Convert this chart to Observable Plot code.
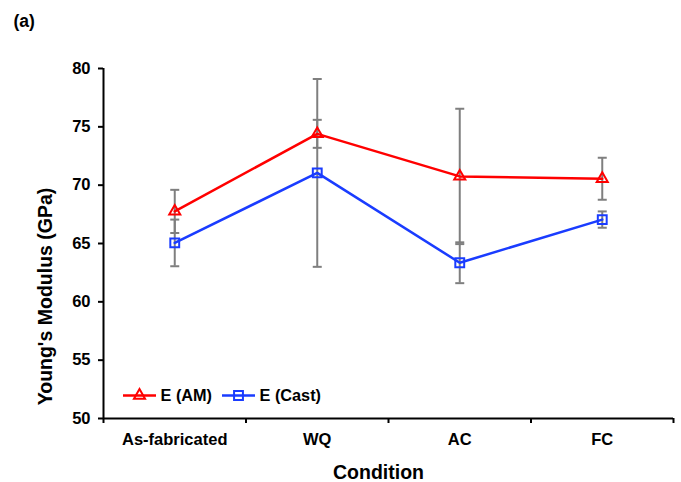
<!DOCTYPE html>
<html><head><meta charset="utf-8">
<script src="https://cdn.jsdelivr.net/npm/d3@7"></script>
<script src="https://cdn.jsdelivr.net/npm/@observablehq/plot@0.6"></script>
<style>body{margin:0;background:#fff;}</style>
</head><body><div id="chart"></div>
<script>
const categories = ["As-fabricated", "WQ", "AC", "FC"];
const amValues = [67.75, 74.4, 70.75, 70.55];
const amErrors = [1.85, 1.2, 5.8, 1.8];
const castValues = [65.05, 71.05, 63.35, 67.05];
const castErrors = [2.0, 8.05, 1.75, 0.7];
const seriesNames = ["E (AM)", "E (Cast)"];
const seriesColors = ["#ff0000", "#1a3cff"];
const seriesSymbols = ["triangle", "square"];
const yTicks = [50, 55, 60, 65, 70, 75, 80];
const panelLabel = "(a)";
const xTitle = "Condition";
const yTitle = "Young's Modulus (GPa)";

const rows = [];
categories.forEach((c, i) => {
  rows.push({i, series: seriesNames[0], v: amValues[i], e: amErrors[i]});
  rows.push({i, series: seriesNames[1], v: castValues[i], e: castErrors[i]});
});
const edges = d3.range(categories.length + 1).map(k => k - 0.5);
const hSymbol = {draw(ctx, size) { const r = Math.sqrt(size / Math.PI); ctx.moveTo(-r, 0); ctx.lineTo(r, 0); }};
const font = "Liberation Sans, Arial, sans-serif";
const legendX = [36, 135];
const legendTextX = [57, 156];

const legendMarks = [];
seriesNames.forEach((name, k) => {
  legendMarks.push(Plot.dot([name], {frameAnchor: "bottom-left", dx: legendX[k], dy: -23, symbol: hSymbol, r: 16.5, stroke: seriesColors[k], strokeWidth: 2.5}));
  legendMarks.push(Plot.dot([name], {frameAnchor: "bottom-left", dx: legendX[k], dy: -23, symbol: seriesSymbols[k], r: k === 0 ? 4.1 : 5, stroke: seriesColors[k], fill: "none", strokeWidth: 2}));
  legendMarks.push(Plot.text([name], {frameAnchor: "bottom-left", dx: legendTextX[k], dy: -23, textAnchor: "start", lineAnchor: "middle", fontSize: 16.3, fontWeight: "bold", fill: "black"}));
});

const chart = Plot.plot({
  width: 681, height: 482,
  marginLeft: 103, marginRight: 8, marginTop: 68, marginBottom: 64,
  style: {fontFamily: font, background: "white"},
  x: {type: "linear", domain: [-0.5, categories.length - 0.5]},
  y: {domain: [50, 80]},
  color: {domain: seriesNames, range: seriesColors},
  symbol: {domain: seriesNames, range: seriesSymbols},
  marks: [
    Plot.axisY({ticks: yTicks, tickSize: 5, tickPadding: 8, fontSize: 16.5, fontWeight: "bold", label: null, stroke: "black", strokeWidth: 2, fill: "black"}),
    Plot.axisX({ticks: d3.range(categories.length), tickFormat: i => categories[i], tickSize: 0, tickPadding: 15, fontSize: 16.5, fontWeight: "bold", label: null, fill: "black"}),
    Plot.axisX({ticks: edges, tickFormat: () => "", tickSize: 5, label: null, stroke: "black", strokeWidth: 2}),
    Plot.ruleX(rows, {x: "i", y1: d => d.v - d.e, y2: d => d.v + d.e, stroke: "#7f7f7f", strokeWidth: 2}),
    Plot.dot(rows, {x: "i", y: d => d.v + d.e, symbol: hSymbol, r: 4.5, stroke: "#7f7f7f", strokeWidth: 2}),
    Plot.dot(rows, {x: "i", y: d => d.v - d.e, symbol: hSymbol, r: 4.5, stroke: "#7f7f7f", strokeWidth: 2}),
    Plot.line(rows, {x: "i", y: "v", stroke: "series", z: "series", strokeWidth: 2.5}),
    Plot.dot(rows.filter(d => d.series === seriesNames[0]), {x: "i", y: "v", symbol: "series", stroke: "series", fill: "none", r: 4.1, strokeWidth: 2}),
    Plot.dot(rows.filter(d => d.series === seriesNames[1]), {x: "i", y: "v", symbol: "series", stroke: "series", fill: "none", r: 5, strokeWidth: 2}),
    Plot.ruleY([50], {stroke: "black", strokeWidth: 2}),
    Plot.ruleX([-0.5], {stroke: "black", strokeWidth: 2}),
    ...legendMarks,
    Plot.text([panelLabel], {frameAnchor: "top-left", dx: -90, dy: -42, textAnchor: "start", lineAnchor: "bottom", fontSize: 17.5, fontWeight: "bold", fill: "black"}),
    Plot.text([yTitle], {frameAnchor: "left", dx: -58, dy: 53, rotate: -90, textAnchor: "middle", lineAnchor: "middle", fontSize: 19.5, fontWeight: "bold", fill: "black"}),
    Plot.text([xTitle], {frameAnchor: "bottom", dx: -10, dy: 60, textAnchor: "middle", lineAnchor: "bottom", fontSize: 19.5, fontWeight: "bold", fill: "black"})
  ]
});
document.getElementById("chart").appendChild(chart);
</script>
</body></html>
